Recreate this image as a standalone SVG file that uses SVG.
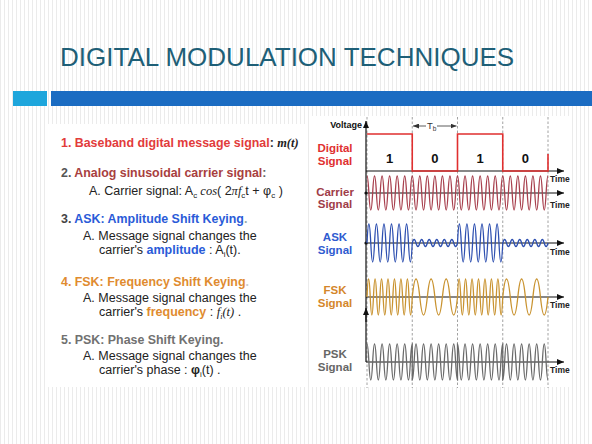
<svg xmlns="http://www.w3.org/2000/svg" width="592" height="444" viewBox="0 0 592 444">
<defs>
<pattern id="stripes" width="4" height="4" patternUnits="userSpaceOnUse"><rect width="4" height="4" fill="#ffffff"/><rect x="0" y="0" width="1" height="4" fill="#ebebeb"/></pattern>
<marker id="ah" markerWidth="7" markerHeight="6" refX="7" refY="3" orient="auto" markerUnits="userSpaceOnUse"><path d="M0,0 L7,3 L0,6 z" fill="#111"/></marker>
<marker id="ahs" markerWidth="6" markerHeight="5" refX="6" refY="2.5" orient="auto" markerUnits="userSpaceOnUse"><path d="M0,0 L6,2.5 L0,5 z" fill="#333"/></marker>
</defs>
<style>
.ff{font-family:"Liberation Sans",Arial,sans-serif}
.h{font-family:"Liberation Sans",Arial,sans-serif;font-size:12.4px;font-weight:bold}
.r{font-family:"Liberation Sans",Arial,sans-serif;font-size:12.5px;fill:#222}
.se{font-family:"Liberation Serif","Times New Roman",serif;font-style:italic}
.sub{font-size:8px}
.lbl{font-family:"Liberation Sans",Arial,sans-serif;font-size:11.5px;font-weight:bold;text-anchor:middle}
.time{font-family:"Liberation Sans",Arial,sans-serif;font-size:8.5px;font-weight:bold;fill:#222}
.ax{stroke:#111;stroke-width:1.2;fill:none}
.dash{stroke:#8a8a8a;stroke-width:0.8;stroke-dasharray:2.5,2;fill:none}
.wave{fill:none;stroke-width:1.3}
</style>
<rect width="592" height="444" fill="url(#stripes)"/>
<g id="title"><text x="60" y="66" class="ff" font-size="26" fill="#1e5f77">DIGITAL MODULATION TECHNIQUES</text></g>
<g id="bar"><rect x="13" y="91" width="34" height="15" fill="#1ea6dc"/><rect x="51" y="91" width="541" height="15" fill="#1b6cc2"/></g>
<rect x="46" y="124" width="260" height="263" fill="#ffffff"/>
<rect x="310" y="116" width="262" height="271" fill="#ffffff"/>
<g id="text-panel">
<text x="61" y="147" class="h"><tspan fill="#e23b3b">1. Baseband digital message signal</tspan><tspan fill="#333">: </tspan><tspan class="se" fill="#222">m(t)</tspan></text>
<text x="61" y="177" class="h"><tspan fill="#555">2. </tspan><tspan fill="#a8403e">Analog sinusoidal carrier signal</tspan><tspan fill="#666">:</tspan></text>
<text x="89" y="195" class="r">A. Carrier signal: A<tspan class="sub" dy="3">c</tspan><tspan dy="-3" class="se"> cos</tspan>( 2<tspan class="se">π</tspan><tspan class="se">f</tspan><tspan class="sub" dy="3">c</tspan><tspan dy="-3">t + φ</tspan><tspan class="sub" dy="3">c</tspan><tspan dy="-3"> )</tspan></text>
<text x="61" y="223" class="h"><tspan fill="#444">3. </tspan><tspan fill="#2a5bd8">ASK: Amplitude Shift Keying</tspan><tspan fill="#9aa">.</tspan></text>
<text x="83" y="240" class="r">A. Message signal changes the</text>
<text x="99" y="254" class="r">carrier's <tspan font-weight="bold" fill="#2a5bd8">amplitude</tspan> : A<tspan class="sub" dy="3">i</tspan><tspan dy="-3">(t).</tspan></text>
<text x="61" y="286" class="h"><tspan fill="#e08b2f">4. FSK: Frequency Shift Keying</tspan><tspan fill="#ccc">.</tspan></text>
<text x="83" y="302" class="r">A. Message signal changes the</text>
<text x="99" y="316" class="r">carrier's <tspan font-weight="bold" fill="#e08b2f">frequency</tspan> : <tspan class="se">f</tspan><tspan class="sub se" dy="3">i</tspan><tspan dy="-3" class="se">(t)</tspan> .</text>
<text x="61" y="344" class="h" fill="#717171">5. PSK: Phase Shift Keying.</text>
<text x="83" y="360" class="r">A. Message signal changes the</text>
<text x="99" y="374" class="r">carrier's phase : <tspan font-weight="bold">φ</tspan><tspan class="sub" dy="3">i</tspan><tspan dy="-3">(t) .</tspan></text>
</g>
<g id="grid">
<line class="dash" x1="367" y1="117" x2="367" y2="388"/>
<line class="dash" x1="412.25" y1="117" x2="412.25" y2="388"/>
<line class="dash" x1="457.5" y1="117" x2="457.5" y2="388"/>
<line class="dash" x1="502.75" y1="117" x2="502.75" y2="388"/>
<line class="dash" x1="548" y1="117" x2="548" y2="388"/>
</g>
<g id="connectors">
<line class="ax" x1="366" y1="362" x2="366" y2="121" marker-end="url(#ah)"/>
<line class="ax" x1="366" y1="322" x2="366" y2="308" marker-end="url(#ah)"/>
<line class="ax" x1="366" y1="171" x2="564" y2="171" marker-end="url(#ah)"/>
<line class="ax" x1="366" y1="193" x2="564" y2="193" marker-end="url(#ah)"/>
<line class="ax" x1="366" y1="243" x2="564" y2="243" marker-end="url(#ah)"/>
<line class="ax" x1="366" y1="297" x2="564" y2="297" marker-end="url(#ah)"/>
<line class="ax" x1="366" y1="362" x2="564" y2="362" marker-end="url(#ah)"/>
<circle cx="366" cy="193" r="1.6" fill="#111"/>
<circle cx="366" cy="243" r="1.6" fill="#111"/>
<line x1="426" y1="126" x2="413" y2="126" stroke="#333" stroke-width="0.8" marker-end="url(#ahs)"/>
<line x1="437" y1="126" x2="456.5" y2="126" stroke="#333" stroke-width="0.8" marker-end="url(#ahs)"/>
</g>
<g id="digital-signal">
<text x="362" y="128" class="ff" font-size="9" font-weight="bold" text-anchor="end" fill="#111">Voltage</text>
<text x="427" y="129" class="ff" font-size="9.5" fill="#333">T<tspan font-size="6.5" dy="2">b</tspan></text>
<text class="lbl" x="335" y="152" fill="#e03030">Digital</text>
<text class="lbl" x="335" y="165" fill="#e03030">Signal</text>
<polyline points="367,134 412.25,134 412.25,171 457.5,171 457.5,134 502.75,134 502.75,171 548,171 548,154" fill="none" stroke="#e02f2f" stroke-width="1.6"/>
<g class="ff" font-size="13" font-weight="bold" fill="#111" text-anchor="middle">
<text x="389.6" y="162.5">1</text><text x="434.9" y="162.5">0</text><text x="480.1" y="162.5">1</text><text x="525.4" y="162.5">0</text>
</g>
<text class="time" x="550" y="182">Time</text>
</g>
<g id="carrier-signal">
<text class="lbl" x="335" y="196" fill="#a03c48">Carrier</text>
<text class="lbl" x="335" y="208" fill="#a03c48">Signal</text>
<path class="wave" stroke="#a8404e" d="M367,176 q0.943,0 1.885,17 q1.885,34 3.771,0 t3.771,0 t3.771,0 t3.771,0 t3.771,0 t3.771,0 t3.771,0 t3.771,0 t3.771,0 t3.771,0 t3.771,0 t3.771,0 t3.771,0 t3.771,0 t3.771,0 t3.771,0 t3.771,0 t3.771,0 t3.771,0 t3.771,0 t3.771,0 t3.771,0 t3.771,0 t3.771,0 t3.771,0 t3.771,0 t3.771,0 t3.771,0 t3.771,0 t3.771,0 t3.771,0 t3.771,0 t3.771,0 t3.771,0 t3.771,0 t3.771,0 t3.771,0 t3.771,0 t3.771,0 t3.771,0 t3.771,0 t3.771,0 t3.771,0 t3.771,0 t3.771,0 t3.771,0 t3.771,0 q0.943,-17 1.885,-17"/>
<text class="time" x="550" y="208">Time</text>
</g>
<g id="ask-signal">
<text class="lbl" x="335" y="241" fill="#2f5bd0">ASK</text>
<text class="lbl" x="335" y="254" fill="#2f5bd0">Signal</text>
<path class="wave" stroke="#2d4fb0" d="M367,243 q1.885,-38 3.771,0 t3.771,0 t3.771,0 t3.771,0 t3.771,0 t3.771,0 t3.771,0 t3.771,0 t3.771,0 t3.771,0 t3.771,0 t3.771,0 q1.885,-7 3.771,0 t3.771,0 t3.771,0 t3.771,0 t3.771,0 t3.771,0 t3.771,0 t3.771,0 t3.771,0 t3.771,0 t3.771,0 t3.771,0 q1.885,-38 3.771,0 t3.771,0 t3.771,0 t3.771,0 t3.771,0 t3.771,0 t3.771,0 t3.771,0 t3.771,0 t3.771,0 t3.771,0 t3.771,0 q1.885,-7 3.771,0 t3.771,0 t3.771,0 t3.771,0 t3.771,0 t3.771,0 t3.771,0 t3.771,0 t3.771,0 t3.771,0 t3.771,0 t3.771,0"/>
<text class="time" x="550" y="255">Time</text>
</g>
<g id="fsk-signal">
<text class="lbl" x="335" y="294" fill="#d4862a">FSK</text>
<text class="lbl" x="335" y="307" fill="#d4862a">Signal</text>
<path class="wave" stroke="#c99330" d="M367,297 q1.616,-36 3.232,0 t3.232,0 t3.232,0 t3.232,0 t3.232,0 t3.232,0 t3.232,0 t3.232,0 t3.232,0 t3.232,0 t3.232,0 t3.232,0 t3.232,0 t3.232,0 q3.771,-36 7.542,0 t7.542,0 t7.542,0 t7.542,0 t7.542,0 t7.542,0 q1.616,-36 3.232,0 t3.232,0 t3.232,0 t3.232,0 t3.232,0 t3.232,0 t3.232,0 t3.232,0 t3.232,0 t3.232,0 t3.232,0 t3.232,0 t3.232,0 t3.232,0 q3.771,-36 7.542,0 t7.542,0 t7.542,0 t7.542,0 t7.542,0 t7.542,0"/>
<text class="time" x="550" y="308">Time</text>
</g>
<g id="psk-signal">
<text class="lbl" x="335" y="358" fill="#666666">PSK</text>
<text class="lbl" x="335" y="371" fill="#666666">Signal</text>
<path class="wave" stroke="#6a6a6a" d="M367,344 q0.943,0 1.885,18 q1.885,36 3.771,0 t3.771,0 t3.771,0 t3.771,0 t3.771,0 t3.771,0 t3.771,0 t3.771,0 t3.771,0 t3.771,0 t3.771,0 q0.943,-18 1.885,-18 l0,36 q0.943,0 1.885,-18 q1.885,-36 3.771,0 t3.771,0 t3.771,0 t3.771,0 t3.771,0 t3.771,0 t3.771,0 t3.771,0 t3.771,0 t3.771,0 t3.771,0 q0.943,18 1.885,18 l0,-36 q0.943,0 1.885,18 q1.885,36 3.771,0 t3.771,0 t3.771,0 t3.771,0 t3.771,0 t3.771,0 t3.771,0 t3.771,0 t3.771,0 t3.771,0 t3.771,0 q0.943,-18 1.885,-18 l0,36 q0.943,0 1.885,-18 q1.885,-36 3.771,0 t3.771,0 t3.771,0 t3.771,0 t3.771,0 t3.771,0 t3.771,0 t3.771,0 t3.771,0 t3.771,0 t3.771,0 q0.943,18 1.885,18"/>
<text class="time" x="550" y="373">Time</text>
</g>
</svg>
